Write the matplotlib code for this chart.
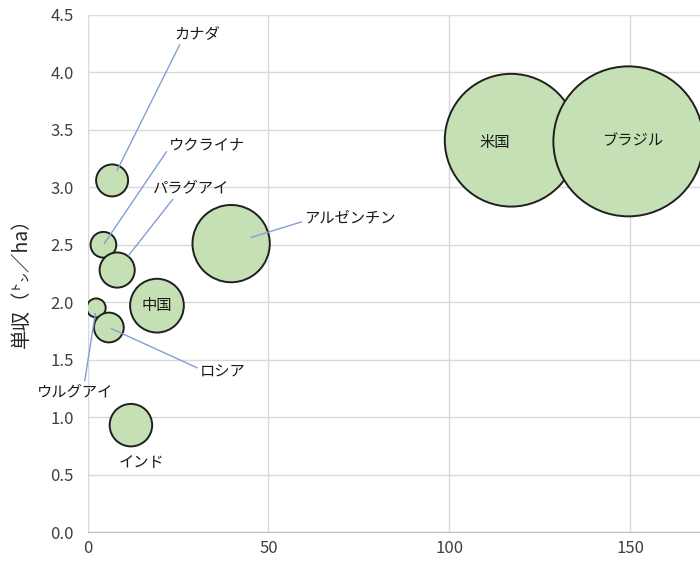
import matplotlib
matplotlib.use('Agg')
import matplotlib.pyplot as plt

# ---- data ----
countries = ['カナダ', 'ウクライナ', 'パラグアイ', 'アルゼンチン', '中国',
             'ウルグアイ', 'ロシア', 'インド', '米国', 'ブラジル']
production = [6.8, 4.4, 8.2, 39.7, 19.2, 2.4, 5.9, 12.0, 117.1, 149.5]   # x & bubble size
yields = [3.06, 2.50, 2.28, 2.51, 1.97, 1.95, 1.78, 0.93, 3.41, 3.40]     # y
x_ticks = [0, 50, 100, 150]
y_ticks = [0.0, 0.5, 1.0, 1.5, 2.0, 2.5, 3.0, 3.5, 4.0, 4.5]
y_label = '単収（㌧／ha）'

# ---- label placement (style only): offset in px (right, down), relpos, shrinkB, leader line ----
label_style = {
    'カナダ':     dict(off=(85, -147), relpos=(0.15, 0.0), shrink=8, line=True),
    'ウクライナ': dict(off=(104, -99), relpos=(0.0, 0.4), shrink=1, line=True),
    'パラグアイ': dict(off=(73, -82), relpos=(0.3, 0.0), shrink=13, line=True),
    'アルゼンチン': dict(off=(119, -26), relpos=(0.0, 0.3), shrink=15, line=True),
    '中国':       dict(off=(0, 0), relpos=(0.5, 0.5), shrink=0, line=False),
    'ウルグアイ': dict(off=(-21, 84), relpos=(0.62, 1.0), shrink=4, line=True),
    'ロシア':     dict(off=(114, 45), relpos=(0.0, 0.7), shrink=2, line=True),
    'インド':     dict(off=(11, 37), relpos=(0.5, 0.5), shrink=0, line=False),
    '米国':       dict(off=(-16, 2), relpos=(0.5, 0.5), shrink=0, line=False),
    'ブラジル':   dict(off=(4, -1), relpos=(0.5, 0.5), shrink=0, line=False),
}

plt.rcParams['font.family'] = ['Noto Sans CJK JP', 'DejaVu Sans']

fig = plt.figure(figsize=(7, 5.65), dpi=100)
ax = fig.add_axes([0.125, 0.0584, 0.875, 0.9151])
ax.set_xlim(0, 169.3)
ax.set_ylim(0, 4.5)
ax.set_xticks(x_ticks)
ax.set_xticklabels([str(v) for v in x_ticks])
ax.set_yticks(y_ticks)
ax.set_yticklabels([f'{v:.1f}' for v in y_ticks])
ax.grid(True, color='#D9D9D9', lw=1)
ax.set_axisbelow(True)
for s in ['top', 'right']:
    ax.spines[s].set_visible(False)
ax.spines['left'].set_color('#D9D9D9')
ax.spines['bottom'].set_color('#BFBFBF')
ax.tick_params(length=0, labelsize=12, colors='#404040')
ax.tick_params(axis='y', pad=10)
ax.tick_params(axis='x', pad=6)

size_scale = 78.0
ax.scatter(production, yields, s=[size_scale * p for p in production],
           c='#C5E0B4', edgecolors='#1F1F1F', linewidths=1.4, zorder=3)

for name, xv, yv in zip(countries, production, yields):
    st = label_style[name]
    dx, dy = st['off']
    kw = {}
    if st['line']:
        kw['arrowprops'] = dict(arrowstyle='-', color='#819FD2', lw=1.0,
                                relpos=st['relpos'], shrinkA=0, shrinkB=st['shrink'])
    ax.annotate(name, xy=(xv, yv), xytext=(dx * 0.72, -dy * 0.72),
                textcoords='offset points', ha='center', va='center',
                fontsize=11, color='#1A1A1A', zorder=5, **kw)

ax.set_ylabel(y_label, fontsize=14, color='#262626')
ax.yaxis.set_label_coords(-0.09, 0.491)

fig.savefig('out.png', dpi=100)
